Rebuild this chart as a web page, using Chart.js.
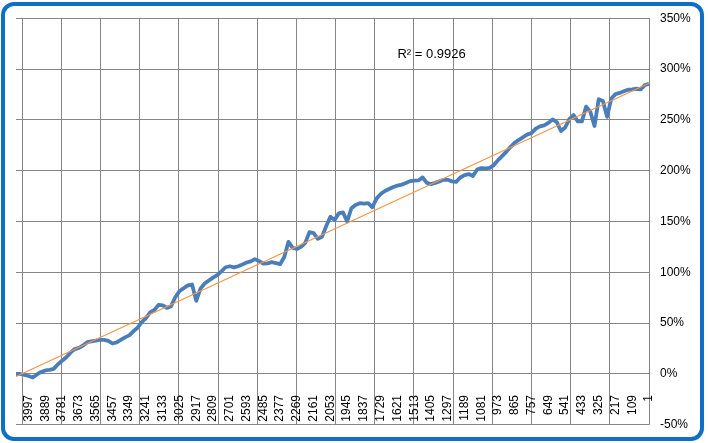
<!DOCTYPE html>
<html>
<head>
  <title>Cumulative return with trend</title>
  <script src="https://cdn.jsdelivr.net/npm/chart.js"></script>
  <style>
    body { margin: 0; background: #fff; }
    #wrap { position: relative; width: 708px; height: 443px; }
    #frame { position: absolute; left: 1px; top: 2px; width: 695px; height: 431px; border: 4px solid #0F6FC6; border-radius: 13px; pointer-events: none; }
  </style>
</head>
<body>
<div id="wrap">
  <canvas id="perfChart"></canvas>
  <div id="frame"></div>
</div>
<script>
// days counted back from today (left = oldest)
const days = [4078, 4051, 4024, 3997, 3970, 3943, 3916, 3889, 3862, 3835, 3808, 3781, 3754, 3727, 3700, 3673,
  3646, 3619, 3592, 3565, 3538, 3511, 3484, 3457, 3430, 3403, 3376, 3349, 3322, 3295, 3268, 3241, 3214, 3187,
  3160, 3133, 3106, 3079, 3052, 3025, 2998, 2971, 2944, 2917, 2890, 2863, 2836, 2809, 2782, 2755, 2728, 2701,
  2674, 2647, 2620, 2593, 2566, 2539, 2512, 2485, 2458, 2431, 2404, 2377, 2350, 2323, 2296, 2269, 2242, 2215,
  2188, 2161, 2134, 2107, 2080, 2053, 2026, 1999, 1972, 1945, 1918, 1891, 1864, 1837, 1810, 1783, 1756, 1729,
  1702, 1675, 1648, 1621, 1594, 1567, 1540, 1513, 1486, 1459, 1432, 1405, 1378, 1351, 1324, 1297, 1270, 1243,
  1216, 1189, 1162, 1135, 1108, 1081, 1054, 1027, 1000, 973, 946, 919, 892, 865, 838, 811, 784, 757, 730, 703,
  676, 649, 622, 595, 568, 541, 514, 487, 460, 433, 406, 379, 352, 325, 298, 271, 244, 217, 190, 163, 136, 109,
  82, 55, 28, 1];

// cumulative return in %
const returns = [0, 0, -1, -2, -3.5, -0.5, 2, 3.5, 4, 5, 9.5, 13, 16.5, 21, 24.5, 25.7,
  28, 31.3, 32, 32.7, 33.5, 33.5, 32.5, 30, 31, 33.5, 36, 38, 42, 45.5, 51, 55,
  60.6, 63, 68, 67.5, 65, 66.7, 75.5, 81.5, 84.4, 87.2, 88, 72, 84, 89, 92, 94.8,
  97.3, 101, 105, 106, 104.9, 106, 107.6, 109.7, 110.8, 113, 111, 108.5, 108.8, 110, 109, 108,
  115, 130, 124, 123, 125, 129, 139.5, 138.5, 133, 135, 145.5, 154.6, 151.5, 158, 159, 150,
  163, 166.3, 168, 167.5, 168, 164, 172.5, 177, 180, 182, 184, 185.3, 186.3, 187.8, 189.7, 190.3,
  190.4, 193.4, 188, 186.8, 188, 189.5, 191, 191, 189.5, 189, 193.3, 195.7, 196.7, 194.8, 201.1, 202.6,
  202.3, 202.8, 205.5, 210.4, 214.6, 218.8, 223.5, 227.6, 230.4, 233, 235.7, 237, 241.4, 243.6, 244.5, 247,
  250.4, 247.8, 239, 242.5, 250.8, 254.7, 248.5, 248.5, 263, 258, 244, 270.3, 268.5, 253, 271, 275.3,
  276.5, 278.1, 279.6, 280, 280.6, 280, 284.2, 285.5];

// linear trend end points
const trendStart = { day: 4078, value: -2.5 };
const trendEnd = { day: 1, value: 286 };
const rsqText = 'R\u00B2 = 0.9926';
const rsqAt = { day: 1621, value: 314 };

const xTickLabels = [3997, 3889, 3781, 3673, 3565, 3457, 3349, 3241, 3133, 3025, 2917, 2809, 2701, 2593,
  2485, 2377, 2269, 2161, 2053, 1945, 1837, 1729, 1621, 1513, 1405, 1297, 1189, 1081, 973, 865, 757, 649,
  541, 433, 325, 217, 109, 1];
const yTicks = [-50, 0, 50, 100, 150, 200, 250, 300, 350];
const gridStepDays = 252.3;

const gridColor = '#868686';
const font = { family: 'Liberation Sans', size: 12 };

const rsqLabel = {
  id: 'rsqLabel',
  afterDatasetsDraw(chart) {
    const c = chart.ctx;
    const x = chart.scales.x.getPixelForValue(days.indexOf(rsqAt.day));
    const y = chart.scales.y.getPixelForValue(rsqAt.value);
    c.save();
    c.font = '13px "Liberation Sans"';
    c.fillStyle = '#000';
    c.textAlign = 'left';
    c.textBaseline = 'middle';
    c.fillText(rsqText, x, y);
    c.restore();
  }
};

new Chart(document.getElementById('perfChart'), {
  type: 'line',
  data: {
    labels: days.map(String),
    datasets: [
      {
        label: 'Trend',
        data: [{ x: String(trendStart.day), y: trendStart.value }, { x: String(trendEnd.day), y: trendEnd.value }],
        borderColor: '#F79646',
        borderWidth: 1.3,
        pointRadius: 0,
        fill: false
      },
      {
        label: 'Return',
        data: returns,
        borderColor: '#4A7EBB',
        borderWidth: 3.8,
        borderJoinStyle: 'round',
        pointRadius: 0,
        tension: 0,
        fill: false
      }
    ]
  },
  options: {
    responsive: true,
    maintainAspectRatio: false,
    animation: false,
    events: [],
    layout: { padding: { left: 16, top: 16, bottom: 18, right: 0 } },
    plugins: { legend: { display: false }, tooltip: { enabled: false } },
    scales: {
      x: {
        type: 'category',
        position: { y: 0 },
        grid: { display: false },
        border: { display: false },
        ticks: {
          autoSkip: false,
          minRotation: 90,
          maxRotation: 90,
          padding: 13,
          color: '#000',
          font: font,
          callback: function (v, i) {
            return xTickLabels.includes(days[i]) ? String(days[i]) : '';
          }
        },
        afterFit: s => { s.height = 0; }
      },
      x2: {
        type: 'linear',
        position: 'top',
        reverse: true,
        min: 1,
        max: days[0],
        grid: { color: gridColor, lineWidth: 1, drawTicks: false },
        border: { display: false },
        ticks: { display: false },
        afterBuildTicks: s => {
          const t = [];
          for (let d = 1; d <= days[0]; d += gridStepDays) t.push({ value: d });
          s.ticks = t;
        },
        afterFit: s => { s.height = 0; }
      },
      y: {
        position: 'right',
        min: -50,
        max: 350,
        grid: { color: gridColor, lineWidth: 1, drawTicks: false },
        border: { display: false },
        ticks: {
          stepSize: 50,
          padding: 11,
          color: '#000',
          font: font,
          callback: v => v + '%'
        },
        afterBuildTicks: s => { s.ticks = yTicks.map(v => ({ value: v })); },
        afterFit: s => { s.width = 59; }
      }
    }
  },
  plugins: [rsqLabel]
});
</script>
</body>
</html>
